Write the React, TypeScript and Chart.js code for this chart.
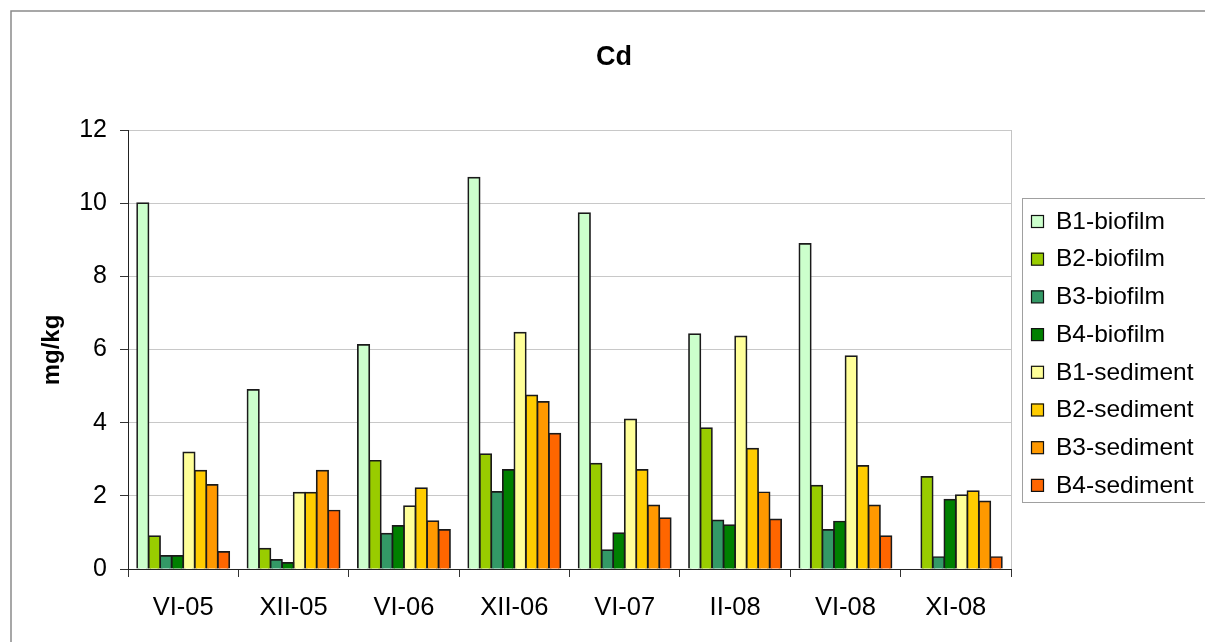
import React, { useEffect, useRef } from "react";
import { Chart, registerables } from "chart.js";

Chart.register(...registerables);

// Sampling campaigns
const categories = ["VI-05", "XII-05", "VI-06", "XII-06", "VI-07", "II-08", "VI-08", "XI-08"];

// Cd concentrations, mg/kg
const b1Biofilm = [10.0, 4.9, 6.13, 10.7, 9.73, 6.42, 8.89, null];
const b2Biofilm = [0.9, 0.56, 2.96, 3.14, 2.88, 3.85, 2.28, 2.52];
const b3Biofilm = [0.36, 0.25, 0.97, 2.11, 0.52, 1.33, 1.07, 0.33];
const b4Biofilm = [0.36, 0.17, 1.18, 2.71, 0.98, 1.2, 1.3, 1.9];
const b1Sediment = [3.19, 2.09, 1.72, 6.46, 4.09, 6.36, 5.82, 2.02];
const b2Sediment = [2.69, 2.09, 2.21, 4.75, 2.71, 3.29, 2.82, 2.13];
const b3Sediment = [2.3, 2.69, 1.31, 4.57, 1.74, 2.1, 1.74, 1.85];
const b4Sediment = [0.47, 1.6, 1.07, 3.7, 1.39, 1.36, 0.9, 0.33];

const seriesNames = [
  "B1-biofilm",
  "B2-biofilm",
  "B3-biofilm",
  "B4-biofilm",
  "B1-sediment",
  "B2-sediment",
  "B3-sediment",
  "B4-sediment",
];
const seriesValues = [
  b1Biofilm,
  b2Biofilm,
  b3Biofilm,
  b4Biofilm,
  b1Sediment,
  b2Sediment,
  b3Sediment,
  b4Sediment,
];
const seriesColors = [
  "#CCFFCC",
  "#99CC00",
  "#339966",
  "#008000",
  "#FFFF99",
  "#FFCC00",
  "#FF9900",
  "#FF6600",
];

const yTicks = [0, 2, 4, 6, 8, 10, 12];

const FONT = "'Liberation Sans', Arial, sans-serif";

// Frame, title, axis title, plot border and boxed legend
const decorations = {
  id: "decorations",
  beforeDraw(chart: any) {
    const { ctx, width, height } = chart;
    ctx.save();
    ctx.fillStyle = "#ffffff";
    ctx.fillRect(0, 0, width, height);
    ctx.restore();
  },
  afterDraw(chart: any) {
    const { ctx, chartArea } = chart;
    ctx.save();

    // outer frame
    ctx.strokeStyle = "#8a8a8a";
    ctx.lineWidth = 1.5;
    ctx.strokeRect(11, 11, 1230, 660);

    // right edge of plot area
    ctx.strokeStyle = "#c4c4c4";
    ctx.lineWidth = 1;
    ctx.beginPath();
    ctx.moveTo(Math.round(chartArea.right) + 0.5, chartArea.top);
    ctx.lineTo(Math.round(chartArea.right) + 0.5, chartArea.bottom);
    ctx.stroke();

    // title
    ctx.fillStyle = "#000";
    ctx.font = `bold 27px ${FONT}`;
    ctx.textAlign = "center";
    ctx.textBaseline = "middle";
    ctx.fillText("Cd", 614, 58);

    // y axis title
    ctx.save();
    ctx.translate(52, 350);
    ctx.rotate(-Math.PI / 2);
    ctx.font = `bold 24px ${FONT}`;
    ctx.fillText("mg/kg", 0, 0);
    ctx.restore();

    // legend
    ctx.strokeStyle = "#a0a0a0";
    ctx.lineWidth = 1;
    ctx.strokeRect(1022.5, 198.5, 260, 304);
    ctx.font = `24.5px ${FONT}`;
    ctx.textAlign = "left";
    ctx.textBaseline = "middle";
    chart.data.datasets.forEach((ds: any, i: number) => {
      const cy = 221 + i * 37.7;
      ctx.fillStyle = ds.backgroundColor;
      ctx.fillRect(1031, cy - 6, 12.5, 12.5);
      ctx.strokeStyle = "#111";
      ctx.lineWidth = 1.2;
      ctx.strokeRect(1031.5, cy - 5.5, 12, 12);
      ctx.fillStyle = "#000";
      ctx.fillText(ds.label, 1056, cy + 1);
    });

    ctx.restore();
  },
};

export default function App() {
  const canvasRef = useRef<HTMLCanvasElement | null>(null);

  useEffect(() => {
    if (!canvasRef.current) return;
    const chart = new Chart(canvasRef.current, {
      type: "bar",
      data: {
        labels: categories,
        datasets: seriesNames.map((name, i) => ({
          label: name,
          data: seriesValues[i],
          backgroundColor: seriesColors[i],
          borderColor: "#1a1a1a",
          borderWidth: 1.7,
          inflateAmount: 0.8,
          categoryPercentage: 0.836,
          barPercentage: 1.0,
        })),
      },
      options: {
        responsive: false,
        animation: false,
        devicePixelRatio: 1,
        layout: { padding: { left: 0, top: 130, right: 194, bottom: 0 } },
        plugins: {
          legend: { display: false },
          title: { display: false },
          tooltip: { enabled: false },
        },
        scales: {
          x: {
            type: "category",
            afterFit: (scale: any) => {
              scale.height = 73;
            },
            grid: {
              display: true,
              drawOnChartArea: false,
              drawTicks: true,
              tickLength: 8,
              tickColor: "#333",
              offset: true,
            },
            border: { color: "#222", width: 1 },
            ticks: {
              color: "#000",
              font: { family: FONT, size: 25.5 },
              padding: 16,
              maxRotation: 0,
            },
          },
          y: {
            min: 0,
            max: 12,
            afterFit: (scale: any) => {
              scale.width = 128;
            },
            afterBuildTicks: (scale: any) => {
              scale.ticks = yTicks.map((v) => ({ value: v }));
            },
            grid: {
              color: "#c8c8c8",
              tickColor: "#333",
              tickLength: 8,
              lineWidth: 1,
            },
            border: { color: "#222", width: 1 },
            ticks: {
              color: "#000",
              font: { family: FONT, size: 25 },
              padding: 13,
            },
          },
        },
      },
      plugins: [decorations],
    });
    return () => chart.destroy();
  }, []);

  return (
    <div style={{ position: "absolute", left: 0, top: 0, width: 1205, height: 642 }}>
      <canvas ref={canvasRef} width={1205} height={642} style={{ width: 1205, height: 642 }} />
    </div>
  );
}
